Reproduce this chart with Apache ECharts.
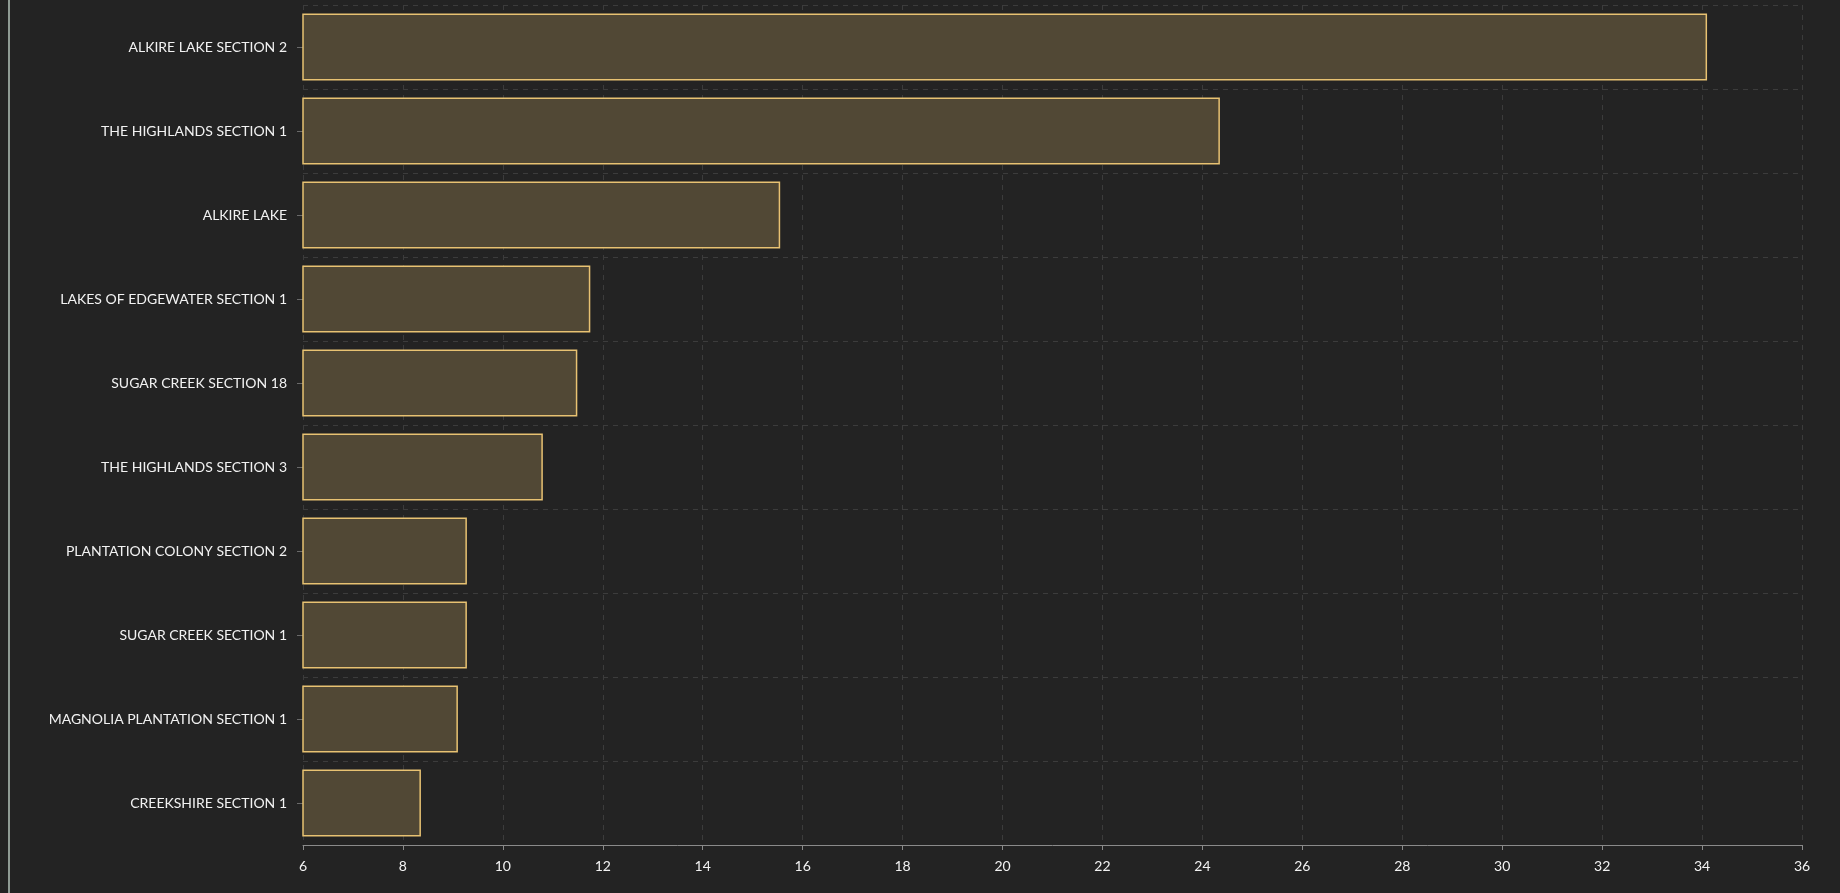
<!DOCTYPE html>
<html><head><meta charset="utf-8">
<script src="https://cdn.jsdelivr.net/npm/echarts@6/dist/echarts.min.js"></script>
<style>html,body{margin:0;padding:0;background:#232323;}#c{width:1840px;height:893px;}</style>
</head><body><div id="c"></div>
<script>
const categories = ["ALKIRE LAKE SECTION 2","THE HIGHLANDS SECTION 1","ALKIRE LAKE","LAKES OF EDGEWATER SECTION 1","SUGAR CREEK SECTION 18","THE HIGHLANDS SECTION 3","PLANTATION COLONY SECTION 2","SUGAR CREEK SECTION 1","MAGNOLIA PLANTATION SECTION 1","CREEKSHIRE SECTION 1"];
const values = [34.1, 24.35, 15.55, 11.75, 11.49, 10.8, 9.28, 9.28, 9.1, 8.36];
const xTicks = {min: 6, max: 36, interval: 2};

const chart = echarts.init(document.getElementById('c'));
chart.setOption({
  backgroundColor: '#232323',
  animation: false,
  graphic: [{type:'rect', shape:{x:8, y:0, width:2, height:893}, style:{fill:'#8f9b94'}}],
  grid: {left: 303, right: 38, top: 5, bottom: 48, containLabel: false},
  xAxis: {
    type: 'value', min: xTicks.min, max: xTicks.max, interval: xTicks.interval,
    axisLine: {show: true, lineStyle: {color: '#8a8a8a', width: 1}},
    axisTick: {show: true, length: 5, lineStyle: {color: '#8a8a8a'}},
    axisLabel: {color: '#f2f2f2', fontFamily: 'Lato', fontSize: 14, margin: 14},
    splitLine: {show: true, lineStyle: {color: '#3c3c3c', type: [5, 5], width: 1}}
  },
  yAxis: {
    type: 'category', data: categories, inverse: true,
    axisLine: {show: false},
    axisTick: {show: true, length: 6, alignWithLabel: true, lineStyle: {color: '#6a6a6a'}},
    axisLabel: {color: '#f2f2f2', fontFamily: 'Lato', fontSize: 14, margin: 16},
    splitLine: {show: true, lineStyle: {color: '#3c3c3c', type: [5, 5], width: 1}}
  },
  series: [{
    type: 'bar', data: values, barWidth: 67,
    itemStyle: {color: '#514835', borderColor: '#e8c272', borderWidth: 1.5}
  }]
});
</script></body></html>
